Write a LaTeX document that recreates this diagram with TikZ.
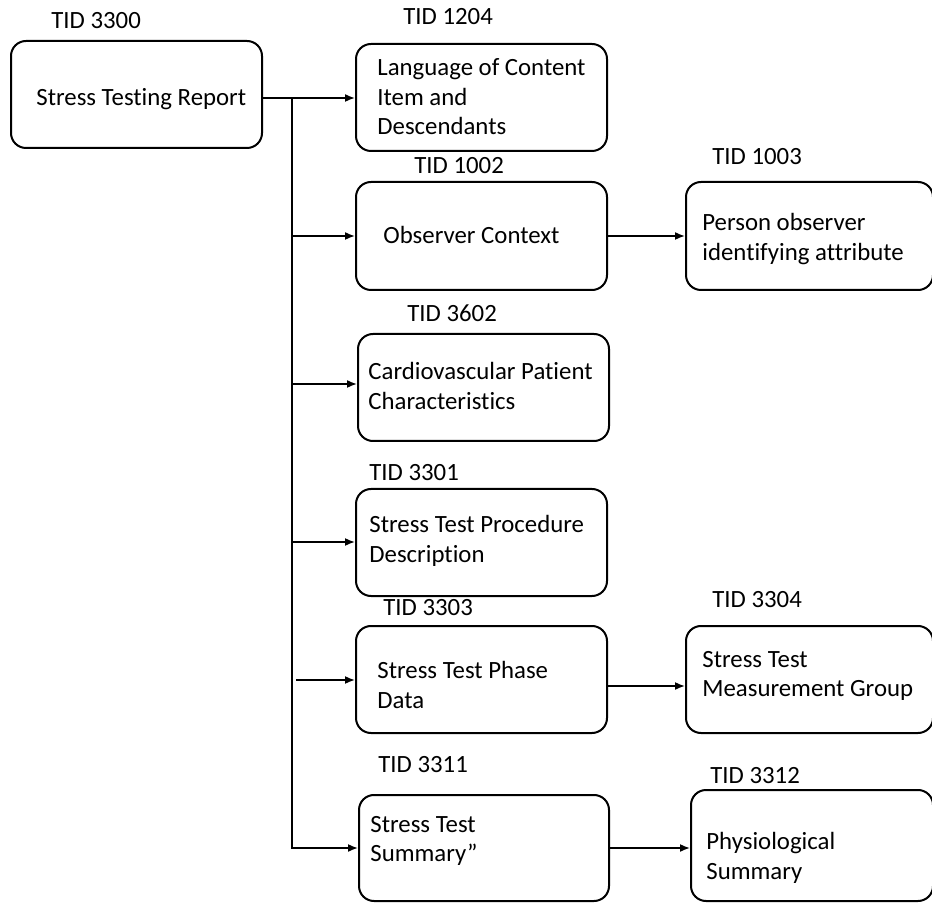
\documentclass[tikz,border=0pt]{standalone}
\usepackage{fontspec}
\setmainfont[Ligatures=NoCommon]{Carlito}
\usetikzlibrary{arrows.meta}

\begin{document}
\begin{tikzpicture}[x=0.5pt, y=-0.5pt, font=\fontsize{12.4}{14.75}\selectfont,
  tbox/.style={draw, line width=1pt, rounded corners=7.5pt, anchor=north west, inner sep=0pt},
  txt/.style={anchor=west, inner sep=0pt, align=left},
  tid/.style={anchor=west, inner sep=0pt},
  conn/.style={line width=0.8pt, -{Latex[length=5pt, width=4pt]}}]
  \useasboundingbox (0,0) rectangle (932,903);
  % boxes
  \node[tbox, minimum width=125.5pt, minimum height=53.5pt] (root) at (10,40) {};
  \node[tbox, minimum width=125.5pt, minimum height=53.5pt] (b1204) at (355,43) {};
  \node[tbox, minimum width=125.5pt, minimum height=54pt] (b1002) at (355,181) {};
  \node[tbox, minimum width=123.5pt, minimum height=54pt] (b1003) at (685,181) {};
  \node[tbox, minimum width=125.5pt, minimum height=53.5pt] (b3602) at (357,333) {};
  \node[tbox, minimum width=125.5pt, minimum height=53.5pt] (b3301) at (355,488) {};
  \node[tbox, minimum width=125.5pt, minimum height=53.5pt] (b3303) at (355,625) {};
  \node[tbox, minimum width=123.5pt, minimum height=53.5pt] (b3304) at (685,625) {};
  \node[tbox, minimum width=125pt, minimum height=53pt] (b3311) at (358,794) {};
  \node[tbox, minimum width=121pt, minimum height=55.5pt] (b3312) at (690,789) {};
  % box texts
  \node[txt] (troot) at (36,99) {Stress Testing Report};
  \node[txt] (t1204) at (377,97) {Language of Content\\Item and\\Descendants};
  \node[txt] (t1002) at (383,235) {Observer Context};
  \node[txt] (t1003) at (702,239) {Person observer\\identifying attribute};
  \node[txt] (t3602) at (368,386) {Cardiovascular Patient\\Characteristics};
  \node[txt] (t3301) at (369,541) {Stress Test Procedure\\Description};
  \node[txt] (t3303) at (377,685) {Stress Test Phase\\Data};
  \node[txt] (t3304) at (702,676) {Stress Test\\Measurement Group};
  \node[txt] (t3311) at (370,841) {Stress Test\\Summary”};
  \node[txt] (t3312) at (706,858) {Physiological\\Summary};
  % template ids
  \node[tid] (l3300) at (51,21) {TID 3300};
  \node[tid] (l1204) at (403,17) {TID 1204};
  \node[tid] (l1002) at (414,166) {TID 1002};
  \node[tid] (l1003) at (712,157) {TID 1003};
  \node[tid] (l3602) at (407,313) {TID 3602};
  \node[tid] (l3301) at (369,473) {TID 3301};
  \node[tid] (l3303) at (383,608) {TID 3303};
  \node[tid] (l3304) at (712,600) {TID 3304};
  \node[tid] (l3311) at (378,765) {TID 3311};
  \node[tid] (l3312) at (710,776) {TID 3312};
  % connectors
  \coordinate (j0) at (292,98);
  \coordinate (j1) at (292,848);
  \draw[conn] (root.east |- j0) -- (b1204.west |- j0);
  \draw[conn] (j0) -- (j1) -- (b3311.west |- j1);
  \foreach \b/\y in {b1002/236, b3602/384, b3301/542}
    \draw[conn] (292,\y) -- (\b.west |- 0,\y);
  \draw[conn] (296,680) -- (b3303.west |- 0,680);
  \draw[conn] (b1002.east) -- (b1003.west);
  \draw[conn] (b3303.east |- 0,686) -- (b3304.west |- 0,686);
  \draw[conn] (b3311.east |- j1) -- (b3312.west |- j1);
\end{tikzpicture}
\end{document}
